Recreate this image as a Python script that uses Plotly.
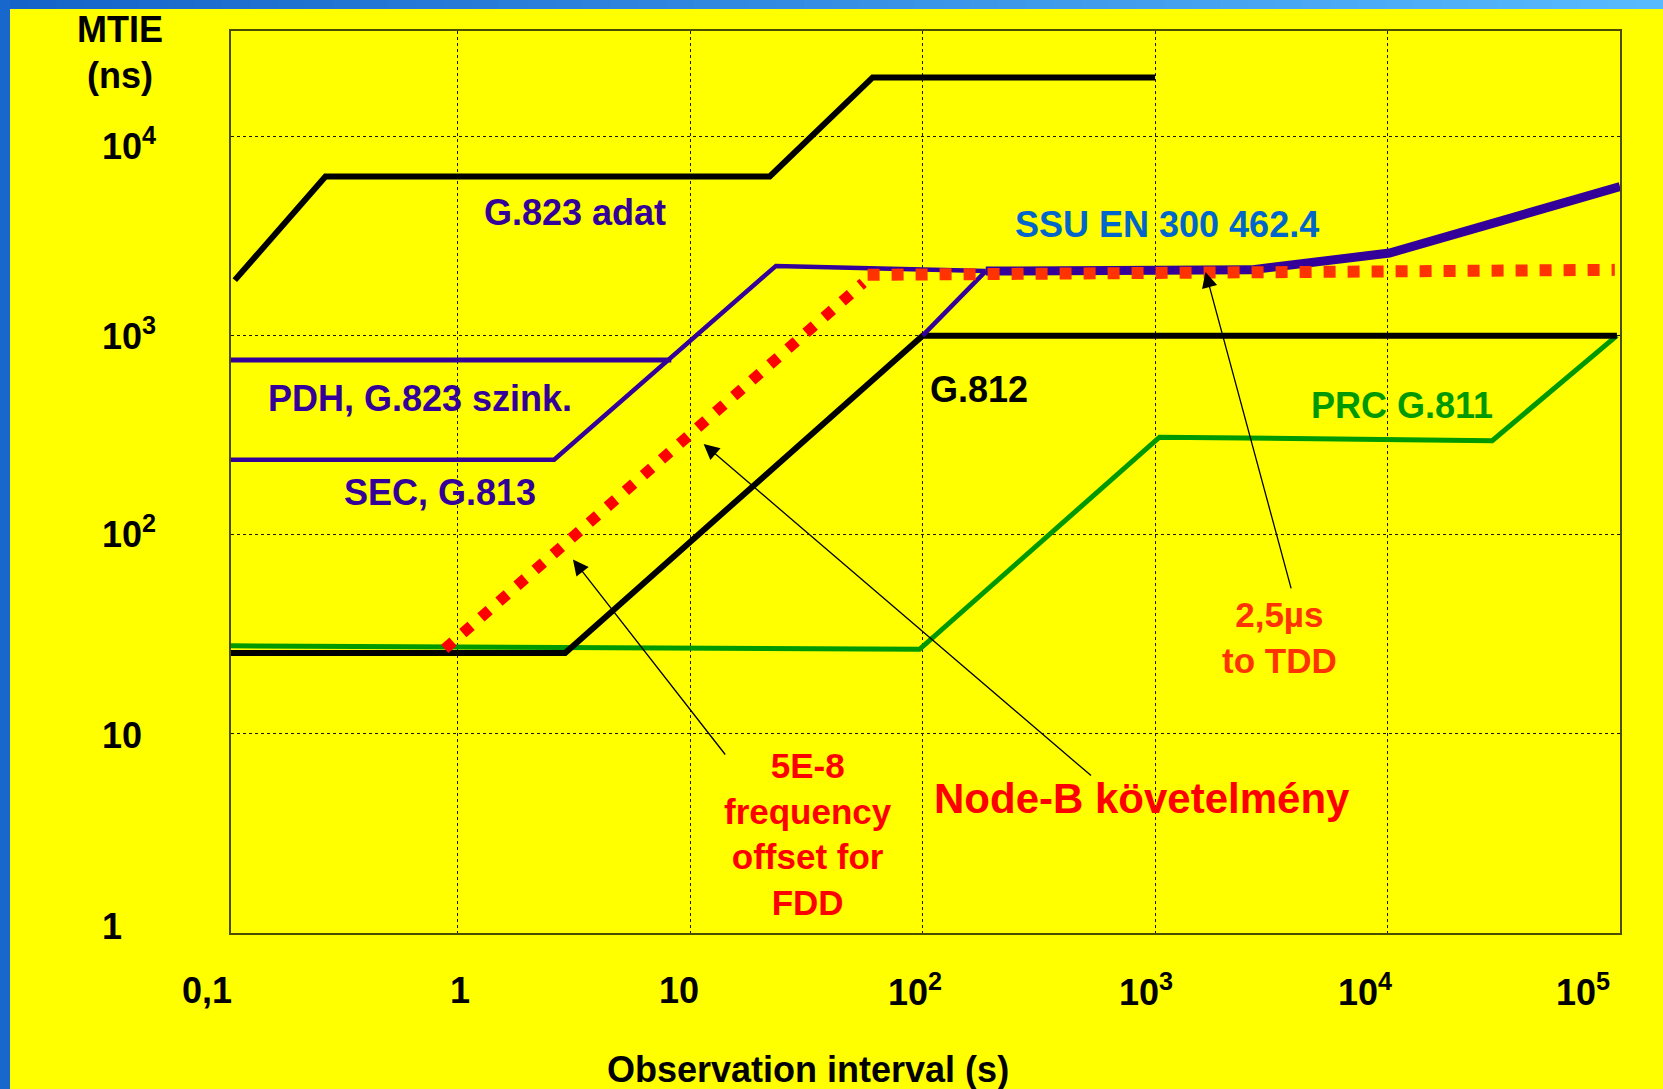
import math
import plotly.graph_objects as go

# ---- MTIE masks: observation interval (s) vs. MTIE (ns) ----
g823_adat_tau = [0.11, 0.27, 22, 61, 1000]
g823_adat_mtie = [1900, 6300, 6300, 19800, 19800]

pdh_g823_tau = [0.1, 8.3]
pdh_g823_mtie = [755, 755]

sec_g813_tau = [0.1, 2.6, 23.4, 187]
sec_g813_mtie = [238, 238, 2240, 2110]

ssu_tau = [100, 187, 2590, 10200, 100000]
ssu_mtie = [1000, 2110, 2140, 2600, 5600]

g812_tau = [0.1, 2.9, 100, 97000]
g812_mtie = [25.5, 25.5, 1000, 1000]

prc_g811_tau = [0.1, 97, 1045, 28200, 97000]
prc_g811_mtie = [27.7, 26.6, 309, 297, 1000]

# Node-B requirement: 5E-8 frequency offset (FDD) and 2,5 us (TDD)
fdd_tau = [0.88, 55.5]
fdd_mtie = [26.7, 1840]

tdd_tau = [58, 95000]
tdd_mtie = [2020, 2140]

# ---- axis ticks ----
x_tick_vals = [0.1, 1, 10, 100, 1000, 10000, 100000]
x_tick_text = ["0,1", "1", "10", "10<sup>2</sup>", "10<sup>3</sup>",
               "10<sup>4</sup>", "10<sup>5</sup>"]
y_tick_vals = [1, 10, 100, 1000, 10000]
y_tick_text = ["1", "10", "10<sup>2</sup>", "10<sup>3</sup>", "10<sup>4</sup>"]

# ---- layout geometry ----
W, H = 1663, 1089
ML, MR, MT, MB = 231, 43, 31, 156
PW, PH = W - ML - MR, H - MT - MB
X_RANGE = [-0.975, 5.0]
Y_RANGE = [0.0, 4.53]

FONT = "Liberation Sans, Arial, Helvetica, sans-serif"
BLACK = "#000000"
PURPLE = "#330099"
GREEN = "#009900"
RED = "#FF0000"
ORANGE = "#FF3300"
BLUE = "#0066CC"
YELLOW = "#FFFF00"


def paper_x(px):
    return (px - ML) / PW


def paper_y(py):
    return (H - MB - py) / PH


def frac_x(val):
    return (math.log10(val) - X_RANGE[0]) / (X_RANGE[1] - X_RANGE[0])


fig = go.Figure()


def add_line(tau, mtie, color, width, name, dash=None):
    line = dict(color=color, width=width)
    if dash:
        line["dash"] = dash
    fig.add_trace(go.Scatter(x=tau, y=mtie, mode="lines", line=line,
                             name=name, hoverinfo="name+x+y"))


add_line(g823_adat_tau, g823_adat_mtie, BLACK, 6, "G.823 adat")
add_line(prc_g811_tau, prc_g811_mtie, GREEN, 5, "PRC G.811")
add_line(g812_tau, g812_mtie, BLACK, 6, "G.812")
add_line(sec_g813_tau, sec_g813_mtie, PURPLE, 4.5, "SEC, G.813")
add_line(pdh_g823_tau, pdh_g823_mtie, PURPLE, 5, "PDH, G.823 szink.")
# SSU: thin ramp off the G.812 corner, then the heavy plateau/slope
add_line(ssu_tau[:2], ssu_mtie[:2], PURPLE, 4.5, "SSU EN 300 462.4")
add_line(ssu_tau[1:], ssu_mtie[1:], PURPLE, 9, "SSU EN 300 462.4")
add_line(fdd_tau, fdd_mtie, RED, 11, "5E-8 FDD", dash="11px,13px")
add_line(tdd_tau, tdd_mtie, ORANGE, 12, "2,5µs TDD", dash="12px,12px")

annotations = []

# tick labels
x_shift = [-18, 2, -11, -8, -9, -23, -37]
for v, t, s in zip(x_tick_vals, x_tick_text, x_shift):
    annotations.append(dict(x=frac_x(v), y=paper_y(990), xref="paper", yref="paper",
                            text="<b>%s</b>" % t, showarrow=False, xshift=s,
                            xanchor="center", yanchor="middle",
                            font=dict(family=FONT, size=36, color=BLACK)))
y_shift = [7, -2, 3, 2, -7]
for v, t, s in zip(y_tick_vals, y_tick_text, y_shift):
    annotations.append(dict(x=paper_x(100), y=math.log10(v), xref="paper", yref="y",
                            text="<b>%s</b>" % t, showarrow=False, yshift=s,
                            xanchor="left", yanchor="middle",
                            font=dict(family=FONT, size=36, color=BLACK)))

# axis titles
annotations.append(dict(x=paper_x(120), y=paper_y(29), xref="paper", yref="paper",
                        text="<b>MTIE</b>", showarrow=False,
                        xanchor="center", yanchor="middle",
                        font=dict(family=FONT, size=36, color=BLACK)))
annotations.append(dict(x=paper_x(120), y=paper_y(75), xref="paper", yref="paper",
                        text="<b>(ns)</b>", showarrow=False,
                        xanchor="center", yanchor="middle",
                        font=dict(family=FONT, size=36, color=BLACK)))
annotations.append(dict(x=paper_x(808), y=paper_y(1069), xref="paper", yref="paper",
                        text="<b>Observation interval (s)</b>", showarrow=False,
                        xanchor="center", yanchor="middle",
                        font=dict(family=FONT, size=36, color=BLACK)))

# curve labels (positions in log10 axis units)
labels = [
    ("G.823 adat", 0.505, 3.621, PURPLE, 36),
    ("SSU EN 300 462.4", 3.051, 3.556, BLUE, 36),
    ("PDH, G.823 szink.", -0.164, 2.682, PURPLE, 36),
    ("SEC, G.813", -0.076, 2.212, PURPLE, 36),
    ("G.812", 2.243, 2.732, BLACK, 36),
    ("PRC G.811", 4.062, 2.647, GREEN, 36),
    ("2,5µs<br>to TDD", 3.537, 1.482, ORANGE, 35),
    ("5E-8<br>frequency<br>offset for<br>FDD", 1.507, 0.497, RED, 35),
    ("Node-B követelmény", 2.942, 0.678, RED, 42),
]
for text, lx, ly, col, size in labels:
    annotations.append(dict(x=lx, y=ly, xref="x", yref="y",
                            text="<b>%s</b>" % text, showarrow=False,
                            xanchor="center", yanchor="middle", align="center",
                            font=dict(family=FONT, size=size, color=col)))

# pointer arrows (head -> tail, log10 axis units)
arrows = [
    (0.496, 1.876, 1.156, 0.889),
    (1.058, 2.456, 2.731, 0.784),
    (3.217, 3.320, 3.587, 1.723),
]
for hx, hy, tx, ty in arrows:
    annotations.append(dict(x=hx, y=hy, xref="x", yref="y",
                            ax=tx, ay=ty, axref="x", ayref="y",
                            text="", showarrow=True, arrowhead=2,
                            arrowsize=2.4, arrowwidth=1.3, arrowcolor=BLACK,
                            standoff=0, startstandoff=0))

# frame decoration: gradient band along the top and a solid band on the left
shapes = []
n_seg = 60
c0 = (0x15, 0x63, 0xC8)
c1 = (0x57, 0xBA, 0xFF)
for i in range(n_seg):
    t = i / (n_seg - 1)
    col = "rgb(%d,%d,%d)" % tuple(round(a + (b - a) * t) for a, b in zip(c0, c1))
    x0 = W * i / n_seg
    x1 = W * (i + 1) / n_seg + 1
    shapes.append(dict(type="rect", xref="paper", yref="paper",
                       x0=paper_x(x0), x1=paper_x(x1), y0=paper_y(9), y1=paper_y(0),
                       fillcolor=col, line=dict(width=0), layer="above"))
shapes.append(dict(type="rect", xref="paper", yref="paper",
                   x0=paper_x(0), x1=paper_x(10), y0=paper_y(H), y1=paper_y(0),
                   fillcolor="#1767CC", line=dict(width=0), layer="above"))

axis_common = dict(
    type="log",
    showgrid=True, gridcolor="#1a1a00", gridwidth=1, griddash="dot",
    zeroline=False, showline=True, linecolor="#4d4d00", linewidth=2,
    mirror=True, ticks="", showticklabels=False,
)

fig.update_layout(
    width=W, height=H,
    margin=dict(l=ML, r=MR, t=MT, b=MB, pad=0, autoexpand=False),
    paper_bgcolor=YELLOW, plot_bgcolor=YELLOW,
    showlegend=False,
    xaxis=dict(range=X_RANGE, tickvals=x_tick_vals, **axis_common),
    yaxis=dict(range=Y_RANGE, tickvals=y_tick_vals, **axis_common),
    annotations=annotations,
    shapes=shapes,
    font=dict(family=FONT),
)

fig.write_html("out.html")
